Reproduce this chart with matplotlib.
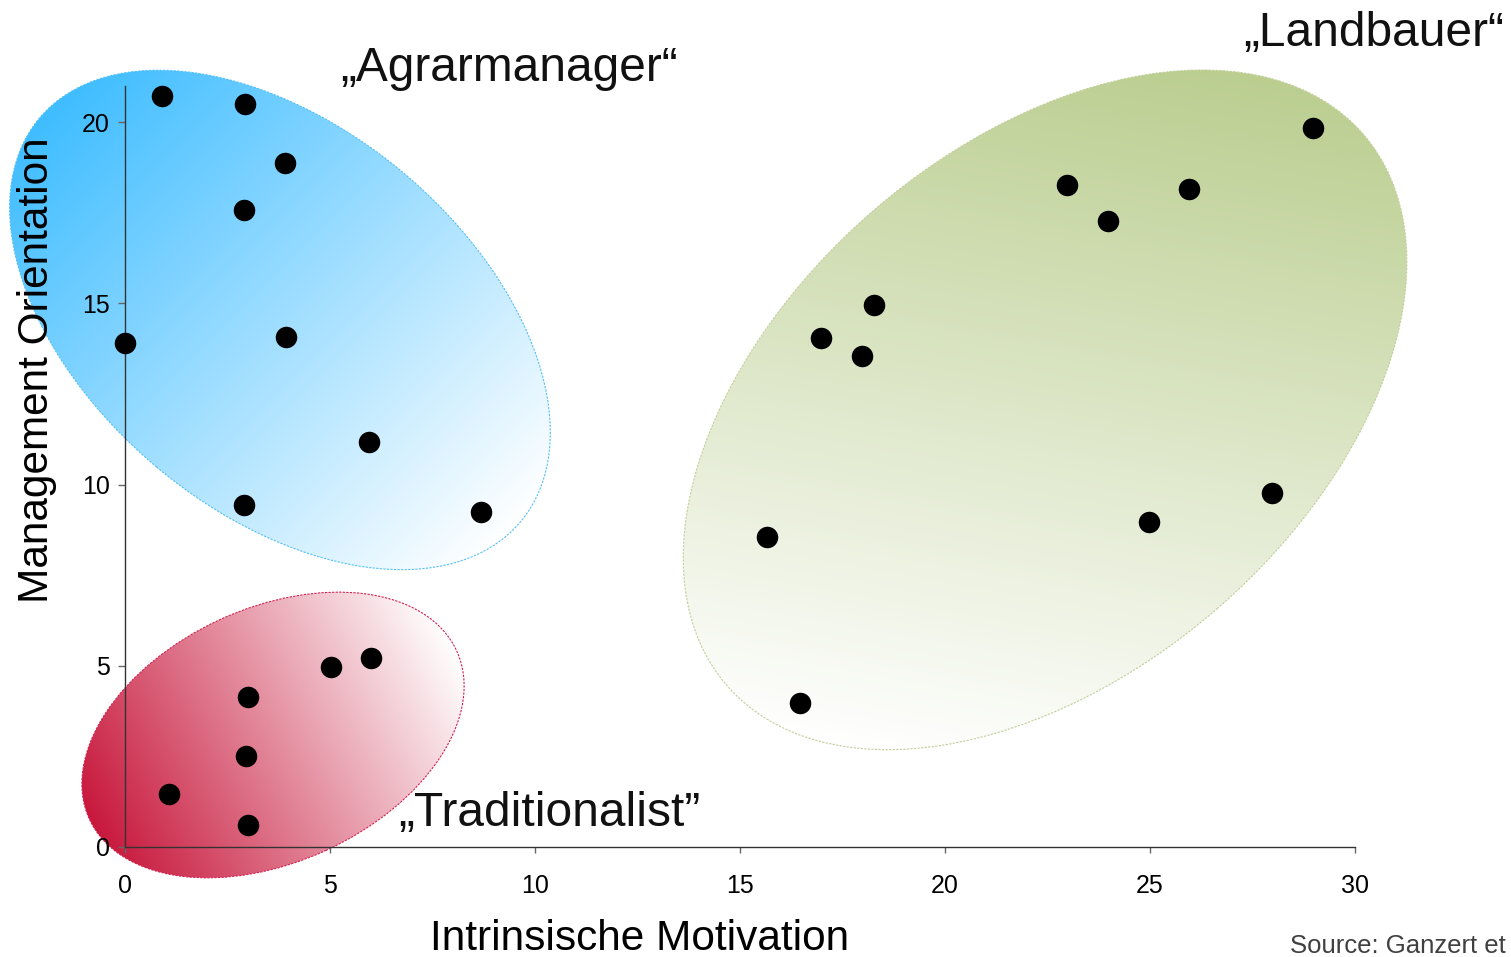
import numpy as np
import matplotlib
matplotlib.use("Agg")
import matplotlib.pyplot as plt
from matplotlib.patches import Ellipse
from matplotlib.colors import to_rgb

# ──────────────────────────────────────────────────────────────
# DATA
# ──────────────────────────────────────────────────────────────
agrar_x = [0.9, 2.93, 3.9, 2.9, 0.0, 3.93, 5.95, 2.9, 8.68]
agrar_y = [20.72, 20.5, 18.87, 17.57, 13.9, 14.07, 11.17, 9.43, 9.24]

trad_x = [5.02, 6.0, 3.0, 2.95, 1.07, 3.0]
trad_y = [4.97, 5.21, 4.14, 2.51, 1.46, 0.61]

land_x = [28.98, 22.98, 25.95, 23.98, 18.27, 16.98, 17.98, 15.66, 27.98, 24.98, 16.46]
land_y = [19.83, 18.26, 18.15, 17.27, 14.95, 14.04, 13.54, 8.55, 9.77, 8.97, 3.97]

x_ticks = [0, 5, 10, 15, 20, 25, 30]
y_ticks = [0, 5, 10, 15, 20]

labels = ["„Agrarmanager“", "„Landbauer“", "„Traditionalist”"]

# ──────────────────────────────────────────────────────────────
# LAYOUT
# ──────────────────────────────────────────────────────────────
plt.rcParams["font.family"] = ["Liberation Sans", "DejaVu Sans"]
W, H = 1511, 957
fig = plt.figure(figsize=(W / 100, H / 100), dpi=100)

bg = fig.add_axes([0, 0, 1, 1], zorder=0)
bg.set_autoscale_on(False)
bg.set_xlim(0, W)
bg.set_ylim(0, H)
bg.axis("off")

ax = fig.add_axes([125 / W, 110 / H, 1230 / W, 761.25 / H], zorder=1)
ax.patch.set_visible(False)
ax.set_xlim(0, 30)
ax.set_ylim(0, 21)


def draw_cluster(cx, cy, a, b, angle, color, edge, direction):
    """Ellipse (sizes in pixels) with linear gradient fading to white."""
    px, py = ax.transData.transform((cx, cy))
    th = np.deg2rad(angle)
    c, s = np.cos(th), np.sin(th)
    sxx = (a * c) ** 2 + (b * s) ** 2
    syy = (a * s) ** 2 + (b * c) ** 2
    sxy = (a * a - b * b) * s * c
    hw, hh = np.sqrt(sxx), np.sqrt(syy)
    d = np.deg2rad(direction)
    dx, dy = np.cos(d), np.sin(d)
    reach = np.sqrt(dx * dx * sxx + 2 * dx * dy * sxy + dy * dy * syy)

    xs = np.arange(px - hw - 3, px + hw + 3)
    ys = np.arange(py - hh - 3, py + hh + 3)
    X, Y = np.meshgrid(xs, ys)
    t = np.clip(((X - px) * dx + (Y - py) * dy) / (2 * reach) + 0.5, 0, 1)
    c0 = np.array(to_rgb(color))
    img = c0 * (1 - t[..., None]) + np.ones(3) * t[..., None]

    patch = Ellipse((px, py), 2 * a, 2 * b, angle=angle, fc="none",
                    ec=edge, lw=0.8, ls=(0, (2, 1.2)), zorder=2)
    bg.add_patch(patch)
    im = bg.imshow(img, extent=[xs[0], xs[-1], ys[0], ys[-1]], origin="lower",
                   interpolation="bilinear", aspect="auto", zorder=1)
    im.set_clip_path(patch)


# --- cluster backgrounds ---
draw_cluster(3.78, 14.54, 314, 192, -40, "#3FBDFF", "#55C0F5", -45)
draw_cluster(3.61, 3.09, 202, 127, 24.6, "#C8183C", "#D42050", 28)
draw_cluster(22.44, 12.06, 421, 263, 40.9, "#BBCE90", "#C2CF9A", -100)

# --- points ---
for xs_, ys_ in [(agrar_x, agrar_y), (trad_x, trad_y), (land_x, land_y)]:
    ax.scatter(xs_, ys_, s=240, color="black", linewidths=0, zorder=3, clip_on=False)

# --- cluster names ---
ax.text(5.24, 21.13, labels[0], fontsize=34.5, va="baseline", ha="left", color="#111111")
ax.text(27.27, 22.1, labels[1], fontsize=34.5, va="baseline", ha="left", color="#111111")
ax.text(6.66, 0.58, labels[2], fontsize=34.5, va="baseline", ha="left", color="#111111")

# --- axes styling ---
for side in ["top", "right"]:
    ax.spines[side].set_visible(False)
for side in ["left", "bottom"]:
    ax.spines[side].set_color("#333333")
    ax.spines[side].set_linewidth(1.0)

ax.set_xticks(x_ticks)
ax.set_yticks(y_ticks)
ax.tick_params(axis="x", direction="out", length=4.5, width=1, color="#666666",
               pad=15, labelsize=18)
ax.tick_params(axis="y", direction="out", length=5, width=1, color="#666666",
               pad=6, labelsize=18)

ax.set_xlabel("Intrinsische Motivation", fontsize=30.5)
ax.xaxis.set_label_coords((640 - 125) / 1230, (847 - 919) / 761.25)
ax.set_ylabel("Management Orientation", fontsize=30.5)
ax.yaxis.set_label_coords((57 - 125) / 1230, (847 - 370) / 761.25)

fig.text(1290 / W, 4 / H, "Source: Ganzert et", fontsize=18.5, color="#404040",
         va="baseline", ha="left")

fig.savefig("out.png", dpi=100)
